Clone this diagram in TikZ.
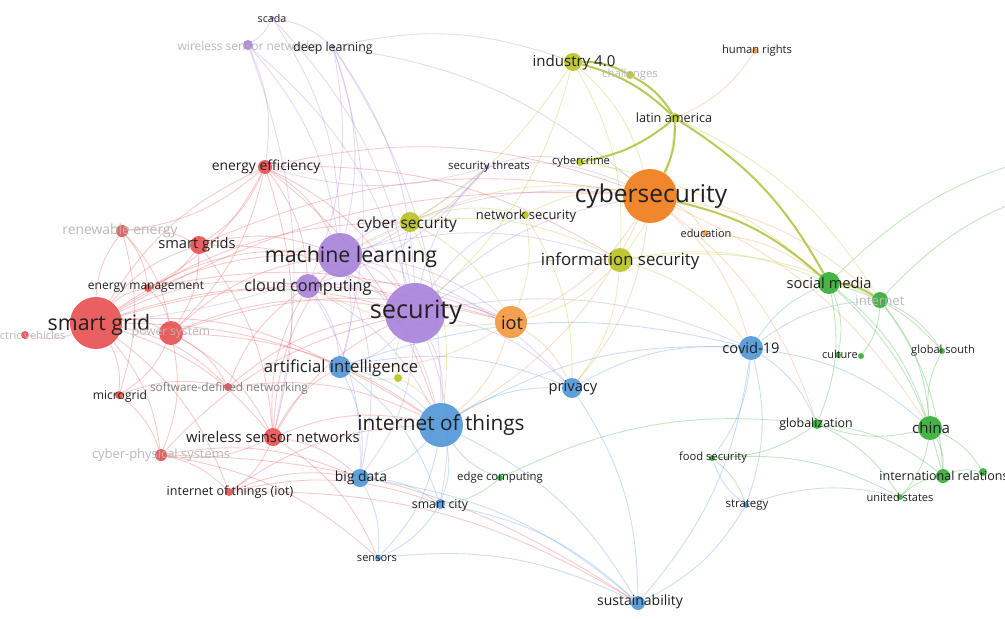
\documentclass[tikz,border=0pt]{standalone}
\usepackage{fontspec}
\setmainfont{Open Sans}
\usetikzlibrary{backgrounds}

% cluster colours
\definecolor{cR}{RGB}{232,78,78}
\definecolor{cP}{RGB}{168,128,218}
\definecolor{cB}{RGB}{78,150,216}
\definecolor{cG}{RGB}{52,172,52}
\definecolor{cY}{RGB}{184,194,32}
\definecolor{cO}{RGB}{245,150,60}
\definecolor{cOd}{RGB}{240,122,22}
\definecolor{cT}{RGB}{165,190,45}
\definecolor{txt}{RGB}{32,32,32}
\definecolor{faint}{RGB}{185,185,185}
\definecolor{midgray}{RGB}{125,125,125}

\tikzset{
  dot/.style={circle,inner sep=0pt,minimum size={#1*1.5pt},fill opacity=0.9},
  R/.style={dot=#1,fill=cR},
  P/.style={dot=#1,fill=cP},
  B/.style={dot=#1,fill=cB},
  G/.style={dot=#1,fill=cG},
  Y/.style={dot=#1,fill=cY},
  O/.style={dot=#1,fill=cO},
  lb/.style={font=\fontsize{#1}{#1}\selectfont,text=txt,inner sep=0pt},
  lf/.style={lb=#1,text=faint},
  lm/.style={lb=#1,text=midgray},
  e/.style={line width=0.65pt,draw opacity=0.3},
  eR/.style={e,draw=cR},
  eP/.style={e,draw=cP},
  eB/.style={e,draw=cB},
  eG/.style={e,draw=cG},
  eY/.style={e,draw=cY},
  eO/.style={e,draw=cO},
  eT/.style={line width=1.5pt,draw=cT,draw opacity=0.8},
}

\begin{document}
\begin{tikzpicture}[x=0.75pt,y=-0.75pt]
\useasboundingbox (0,0) rectangle (1005,618);

% ---------- keyword circles ----------
% purple cluster
\node[P=2]  (scada) at (272,18) {};
\node[P=5]  (wsnp)  at (248,45) {};
\node[P=2]  (dl)    at (333,47) {};
\node[P=22] (ml)    at (340,255) {};
\node[P=12] (cc)    at (308,286) {};
\node[P=30] (sec)   at (415,313) {};
\node[P=2.5](st)    at (487,167) {};
% yellow cluster
\node[Y=9]  (ind)   at (573,62) {};
\node[Y=4]  (chal)  at (630,75) {};
\node[Y=5]  (lat)   at (675,118) {};
\node[Y=4]  (ccr)   at (580,162) {};
\node[Y=10] (cs)    at (410,222) {};
\node[Y=4]  (ns)    at (525,215) {};
\node[Y=12] (is)    at (620,260) {};
\node[Y=4]  (yn)    at (398,378) {};
% orange cluster
\node[dot=27,fill=cOd] (cyb) at (650,196) {};
\node[O=16] (iot)   at (511,322) {};
\node[O=3]  (edu)   at (705,233) {};
\node[O=3]  (hr)    at (755,51) {};
% blue cluster
\node[B=11] (ai)    at (340,367) {};
\node[B=22] (ioth)  at (441,425) {};
\node[B=9]  (bd)    at (360,478) {};
\node[B=5]  (sc)    at (440,504) {};
\node[B=3]  (sen)   at (378,558) {};
\node[B=10] (prv)   at (572,388) {};
\node[B=12] (cov)   at (751,348) {};
\node[B=3]  (strat) at (746,505) {};
\node[B=7]  (sus)   at (638,603) {};
% green cluster
\node[G=11] (sm)    at (829,283) {};
\node[G=8]  (inet)  at (880,300) {};
\node[G=3]  (cul)   at (838,355) {};
\node[G=3]  (cul2)  at (861,356) {};
\node[G=3]  (gs)    at (942,351) {};
\node[G=5]  (glob)  at (817,424) {};
\node[G=12] (chn)   at (930,428) {};
\node[G=7]  (ir)    at (943,476) {};
\node[G=4]  (ir2)   at (983,472) {};
\node[G=3]  (us)    at (900,497) {};
\node[G=3]  (food)  at (712,458) {};
\node[G=3]  (edge)  at (500,478) {};
% red cluster
\node[R=7]  (ee)    at (265,167) {};
\node[R=6]  (re)    at (122,231) {};
\node[R=9]  (sgs)   at (199,245) {};
\node[R=4]  (em)    at (148,288) {};
\node[R=26] (sg)    at (96,323) {};
\node[R=4]  (ev)    at (25,335) {};
\node[R=12] (ps)    at (171,333) {};
\node[R=4]  (sdn)   at (228,387) {};
\node[R=4]  (mg)    at (119,395) {};
\node[R=9]  (wsn)   at (273,437) {};
\node[R=6]  (cps)   at (161,455) {};
\node[R=4]  (iotp)  at (229,492) {};
% links leaving the map on the right
\coordinate (off1) at (1070,150);
\coordinate (off2) at (1070,185);

% ---------- links ----------
\begin{scope}[on background layer]
\fill[white] (0,0) rectangle (1005,618);
\clip (0,0) rectangle (1005,618);
\foreach \a/\b in {sg/sgs,sg/re,sg/em,sg/ps,sg/ev,sg/mg,sg/cps,sg/wsn,sg/sdn,sg/ee,sg/sec,sg/ml,sg/cc,sg/iot,sg/ai,sg/iotp,sg/cyb,sg/cs,sg/ioth,
  ee/sgs,ee/ml,ee/sec,ee/wsn,ee/em,ee/ps,ee/cc,ee/ioth,ee/cyb,ee/re,ee/is,
  re/sgs,re/em,re/ps,re/mg,sgs/em,sgs/ps,sgs/ml,sgs/sec,sgs/cyb,sgs/wsn,
  em/ps,em/ml,em/iot,ps/sec,ps/ml,ps/wsn,ps/sdn,ps/cps,ps/ioth,ps/iot,ps/mg,
  wsn/ioth,wsn/sec,wsn/cps,wsn/bd,wsn/ai,wsn/iotp,wsn/sen,wsn/cc,wsn/ml,
  cps/iotp,cps/sec,cps/bd,cps/sen,cps/sus,iotp/bd,iotp/ioth,iotp/sc,iotp/sus,
  mg/sdn,mg/cps,sdn/sec,sdn/ioth,sdn/cc}
  \draw[eR] (\a) to[bend left=16] (\b);
\foreach \a/\b in {scada/wsnp,scada/dl,scada/sec,scada/ml,wsnp/ee,wsnp/ml,wsnp/sec,wsnp/wsn,
  dl/ml,dl/sec,dl/cc,dl/ai,dl/ioth,dl/cyb,dl/ind,
  ml/sec,ml/cc,ml/ai,ml/ioth,ml/iot,ml/cyb,ml/cs,ml/bd,ml/prv,ml/is,
  cc/sec,cc/ioth,cc/ai,cc/bd,cc/iot,
  sec/ioth,sec/iot,sec/ai,sec/cyb,sec/prv,sec/bd,sec/sc,sec/cs,sec/st,sec/is,sec/ns,sec/cov,
  st/cc,st/ml,st/cyb,st/ee,st/ccr,st/sg}
  \draw[eP] (\a) to[bend left=16] (\b);
\foreach \a/\b in {ind/cyb,ind/sec,ind/is,ind/ml,lat/is,lat/inet,ccr/cyb,ccr/sm,
  cs/cyb,cs/ioth,cs/is,cs/ns,cs/iot,ns/cyb,ns/iot,ns/prv,
  is/iot,is/sm,is/prv,is/inet,is/cov,yn/ai,yn/sec,yn/ioth}
  \draw[eY] (\a) to[bend left=16] (\b);
\foreach \a/\b in {cyb/iot,cyb/inet,cyb/edu,cyb/prv,cyb/cov,cyb/ioth,cyb/chn,cyb/glob,
  iot/ioth,iot/prv,iot/ai,iot/cc,edu/sm,hr/lat}
  \draw[eO] (\a) to[bend left=16] (\b);
\foreach \a/\b in {ai/ioth,ai/bd,ai/prv,ai/sc,ai/cov,ioth/bd,ioth/sc,ioth/sen,ioth/prv,ioth/sus,ioth/cov,
  bd/sc,bd/sen,bd/sus,sc/sen,sc/sus,prv/cov,prv/sus,
  cov/sm,cov/strat,cov/glob,cov/chn,cov/sus,cov/food,cov/inet,
  strat/us,strat/sus,strat/food,sen/sus}
  \draw[eB] (\a) to[bend left=16] (\b);
\foreach \a/\b in {sm/cul,sm/chn,sm/glob,sm/gs,sm/ir,sm/off1,inet/off2,inet/chn,inet/gs,inet/ir,inet/cul2,
  chn/ir,chn/us,chn/glob,chn/gs,chn/ir2,glob/us,glob/ir,glob/food,food/strat,food/us,
  edge/ioth,edge/glob,edge/sc,us/ir,ir/ir2}
  \draw[eG] (\a) to[bend left=16] (\b);
% strongest links
\foreach \a/\b in {ind/lat,ind/chal,chal/lat,lat/cyb,lat/ccr,lat/sm,cyb/sm,sm/inet}
  \draw[eT] (\a) to[bend left=14] (\b);
\end{scope}

% ---------- keyword labels ----------
\node[lb=8]    (l-scada) at (272,18)  {scada};
\node[lf=9]    (l-wsnp)  at (248,46)  {wireless sensor networks};
\node[lb=9.3]  (l-dl)    at (333,48)  {deep learning};
\node[lb=16]   (l-ml)    at (351,257) {machine learning};
\node[lb=12.2] (l-cc)    at (308,287) {cloud computing};
\node[lb=19]   (l-sec)   at (416,312) {security};
\node[lb=8.5]  (l-st)    at (489,167) {security threats};

\node[lb=11.3] (l-ind)   at (574,63)  {industry 4.0};
\node[lf=8.5]  (l-chal)  at (630,75)  {challenges};
\node[lb=9.5]  (l-lat)   at (674,118) {latin america};
\node[lb=8.4]  (l-ccr)   at (581,162) {cybercrime};
\node[lb=11.6] (l-cs)    at (407,224) {cyber security};
\node[lb=9.7]  (l-ns)    at (526,216) {network security};
\node[lb=12.6] (l-is)    at (620,261) {information security};

\node[lb=18.4] (l-cyb)   at (651,196) {cybersecurity};
\node[lb=13.6] (l-iot)   at (512,323) {iot};
\node[lb=8.2]  (l-edu)   at (706,233) {education};
\node[lb=8.4]  (l-hr)    at (757,51)  {human rights};

\node[lb=12.5] (l-ai)    at (341,368) {artificial intelligence};
\node[lb=15.6] (l-ioth)  at (441,425) {internet of things};
\node[lb=10.4] (l-bd)    at (361,478) {big data};
\node[lb=9.2]  (l-sc)    at (440,505) {smart city};
\node[lb=8.3]  (l-sen)   at (377,559) {sensors};
\node[lb=11]   (l-prv)   at (573,388) {privacy};
\node[lb=11]   (l-cov)   at (751,348) {covid-19};
\node[lb=8.6]  (l-strat) at (747,505) {strategy};
\node[lb=10.5] (l-sus)   at (640,602) {sustainability};

\node[lb=11]   (l-sm)    at (829,283) {social media};
\node[lf=9.9]  (l-inet)  at (880,301) {internet};
\node[lb=8.2]  (l-cul)   at (840,354) {culture};
\node[lb=8.3]  (l-gs)    at (943,351) {global south};
\node[lb=9.3]  (l-glob)  at (816,424) {globalization};
\node[lb=11.3] (l-chn)   at (931,428) {china};
\node[lb=9.4]  (l-ir)    at (944,476) {international relations};
\node[lb=8.3]  (l-us)    at (900,497) {united states};
\node[lb=8.4]  (l-food)  at (713,458) {food security};
\node[lb=8.5]  (l-edge)  at (500,478) {edge computing};

\node[lb=10.4] (l-ee)    at (266,167) {energy efficiency};
\node[lf=10.4] (l-re)    at (120,231) {renewable energy};
\node[lb=11]   (l-sgs)   at (197,245) {smart grids};
\node[lb=9]    (l-em)    at (146,287) {energy management};
\node[lb=16]   (l-sg)    at (99,325)  {smart grid};
\node[lf=8.3]  (l-ev)    at (25,335)  {electric vehicles};
\node[lf=9]    (l-ps)    at (171,333) {power system};
\node[lm=8.8]  (l-sdn)   at (229,388) {software-defined networking};
\node[lb=9.1]  (l-mg)    at (120,396) {microgrid};
\node[lb=11.1] (l-wsn)   at (273,437) {wireless sensor networks};
\node[lf=9.7]  (l-cps)   at (161,455) {cyber-physical systems};
\node[lb=9.4]  (l-iotp)  at (230,492) {internet of things (iot)};
\end{tikzpicture}
\end{document}
